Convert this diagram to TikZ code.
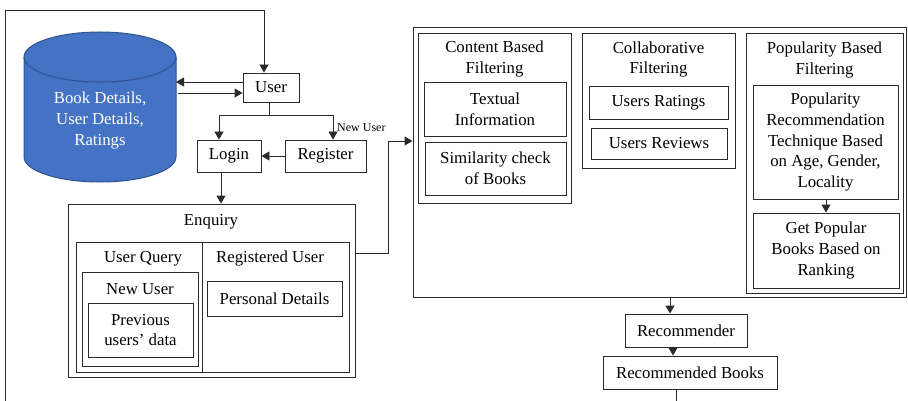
\documentclass[tikz,border=0pt]{standalone}
\usepackage{fontspec}
\setmainfont{Liberation Serif}
\usetikzlibrary{arrows.meta,calc}
\definecolor{dbfill}{HTML}{4472C4}
\definecolor{dbedge}{HTML}{2F528F}
\definecolor{ln}{HTML}{2A2A2A}
\tikzset{
  box/.style={draw=ln, line width=0.9pt, inner sep=0pt, align=center, font=\fontsize{16.8}{20.8}\selectfont},
  txt/.style={inner sep=0pt, align=center, font=\fontsize{16.8}{20.8}\selectfont},
  arr/.style={draw=ln, line width=0.9pt, -{Triangle[width=9pt,length=8pt]}},
  ln/.style={draw=ln, line width=0.9pt}
}
\begin{document}
\begin{tikzpicture}[x=1pt,y=-1pt]
\useasboundingbox (0,0) rectangle (908,401);
% database cylinder
\filldraw[fill=dbfill, draw=dbedge, line width=1pt] (24,57) -- (24,157) arc[start angle=180, end angle=360, x radius=76pt, y radius=25pt] -- (176,57) arc[start angle=0, end angle=180, x radius=76pt, y radius=25pt] -- cycle;
\draw[dbedge, line width=1pt] (24,57) arc[start angle=180, end angle=360, x radius=76pt, y radius=25pt];
\node[txt, text=white] (db) at (100,120.5) {Book Details,\\User Details,\\Ratings};
\coordinate (dbin) at (176,82);
\coordinate (dbout) at (178,93);

% left side nodes
\node[box, minimum width=56pt, minimum height=29pt] (user) at (271,87.5) {User};
\node[box, minimum width=64pt, minimum height=32pt] (login) at (229,156) {Login};
\node[box, minimum width=81pt, minimum height=32pt] (register) at (325.5,156) {Register};

% enquiry
\node[box, minimum width=287pt, minimum height=173pt] (enq) at (211.5,290.5) {};
\node[txt] (enqt) at (211,222) {Enquiry};
\node[box, minimum width=273pt, minimum height=130pt] (inner) at (212.5,307) {};
\draw[ln] (202,242) -- (202,372);
\node[txt] (uqt) at (143,259) {User Query};
\node[txt] (rut) at (270,258) {Registered User};
\node[box, minimum width=116pt, minimum height=94pt] (nu) at (140,319) {};
\node[txt] (nut) at (140,289) {New User};
\node[box, minimum width=105pt, minimum height=54pt] (prev) at (140.5,330) {Previous\\users’ data};
\node[box, minimum width=135pt, minimum height=35pt] (pd) at (274.5,298.5) {Personal Details};

% big box
\node[box, minimum width=493pt, minimum height=270pt] (big) at (659.5,162) {};
\node[box, minimum width=153pt, minimum height=170pt] (cbf) at (494.5,118) {};
\node[txt] (cbft) at (494.5,59) {Content Based\\Filtering};
\node[box, minimum width=142pt, minimum height=54pt] (ti) at (495,109) {Textual\\Information};
\node[box, minimum width=141pt, minimum height=53pt] (sc) at (495.5,168.5) {Similarity check\\of Books};
\node[box, minimum width=153pt, minimum height=135pt] (cf) at (658.5,100.5) {};
\node[txt] (cft) at (658.5,59.5) {Collaborative\\Filtering};
\node[box, minimum width=139pt, minimum height=33pt] (ur) at (658.5,102.5) {Users Ratings};
\node[box, minimum width=136pt, minimum height=31pt] (urv) at (659,143.5) {Users Reviews};
\node[box, minimum width=157pt, minimum height=260pt] (pbf) at (824.5,163) {};
\node[txt] (pbft) at (824.5,60) {Popularity Based\\Filtering};
\node[box, minimum width=145pt, minimum height=114pt] (pop1) at (825.5,142) {Popularity\\Recommendation\\Technique Based\\on Age, Gender,\\Locality};
\node[box, minimum width=146pt, minimum height=75pt] (pop2) at (826,250.5) {Get Popular\\Books Based on\\Ranking};

\node[box, minimum width=122pt, minimum height=33pt] (rec) at (686,330.5) {Recommender};
\node[box, minimum width=174pt, minimum height=33pt] (rb) at (690,372.5) {Recommended Books};

% connectors
\draw[arr] (user.west |- dbin) -- (dbin);
\draw[arr] (dbout) -- (dbout -| user.west);
\coordinate (split) at (269,115);
\coordinate (sl) at (219,115);
\coordinate (sr) at (333,115);
\draw[ln] (user.south -| split) -- (split);
\draw[ln] (sl) -- (sr);
\draw[arr] (sl) -- (sl |- login.north);
\draw[arr] (sr) -- (sr |- register.north);
\node[inner sep=0pt, anchor=west, font=\fontsize{12}{14}\selectfont] (nul) at (337,127.5) {New User};
\draw[arr] (register.west) -- (login.east);
\coordinate (lx) at (221,180);
\draw[arr] (login.south -| lx) -- (lx |- enq.north);

\coordinate (bend) at (388,141);
\draw[arr] ($(enq.north east)+(0,50)$) -| (bend) -- (bend -| big.west);
\draw[arr] (pop1.south -| pop2.north) -- (pop2.north);
\coordinate (r1) at (670,297);
\draw[arr] (r1) -- (r1 |- rec.north);
\coordinate (r2) at (673,350);
\draw[arr] (r2 |- rec.south) -- (r2 |- rb.north);

\coordinate (c0) at (676,404);
\coordinate (c1) at (5,404);
\coordinate (c2) at (5,10);
\coordinate (c3) at (264,10);
\draw[arr] (rb.south -| c0) -- (c0) -- (c1) -- (c2) -- (c3) -- (c3 |- user.north);
\end{tikzpicture}
\end{document}
